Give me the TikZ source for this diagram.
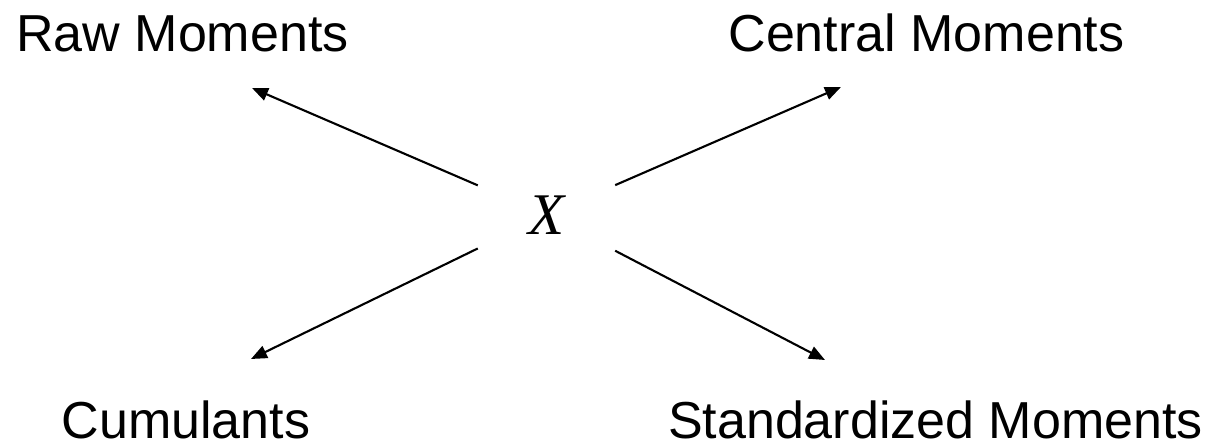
\documentclass[tikz,border=0pt]{standalone}
\usepackage{fontspec}
\setmainfont{Liberation Serif}
\setsansfont{Liberation Sans}
\usepackage{tikz}
\usetikzlibrary{arrows.meta,positioning}
\tikzset{
    % Moment label style
    momentnode/.style={
        inner sep=0pt,
        text depth=0pt,
        anchor=base,
        font=\sffamily\fontsize{14.8}{17}\selectfont
    },
    % Central variable
    varnode/.style={
        inner sep=0pt,
        minimum width=1.36cm,
        minimum height=0.78cm,
        font=\fontsize{16.8}{19}\selectfont\itshape
    },
    % Arrow style
    myarrow/.style={
        -{Triangle[length=0.16cm,width=0.13cm]},
        line width=0.6pt,
        draw=black
    }
}
\begin{document}
\begin{tikzpicture}
    \useasboundingbox (0,0) rectangle (12.12,4.48);

    \node[momentnode] (raw) at (1.825,3.96) {Raw Moments};
    \node[momentnode] (central) at (9.265,3.96) {Central Moments};
    \node[momentnode] (cum) at (1.86,0.09) {Cumulants};
    \node[momentnode] (std) at (9.355,0.09) {Standardized Moments};
    \node[varnode] (x) at (5.465,2.33) {X};

    % arrow tips
    \coordinate (rawtip) at (2.52,3.60);
    \coordinate (centraltip) at (8.41,3.61);
    \coordinate (cumtip) at (2.51,0.89);
    \coordinate (stdtip) at (8.25,0.88);

    \draw[myarrow] (x) -- (rawtip);
    \draw[myarrow] (x) -- (centraltip);
    \draw[myarrow] (x) -- (cumtip);
    \draw[myarrow] (x) -- (stdtip);
\end{tikzpicture}
\end{document}
